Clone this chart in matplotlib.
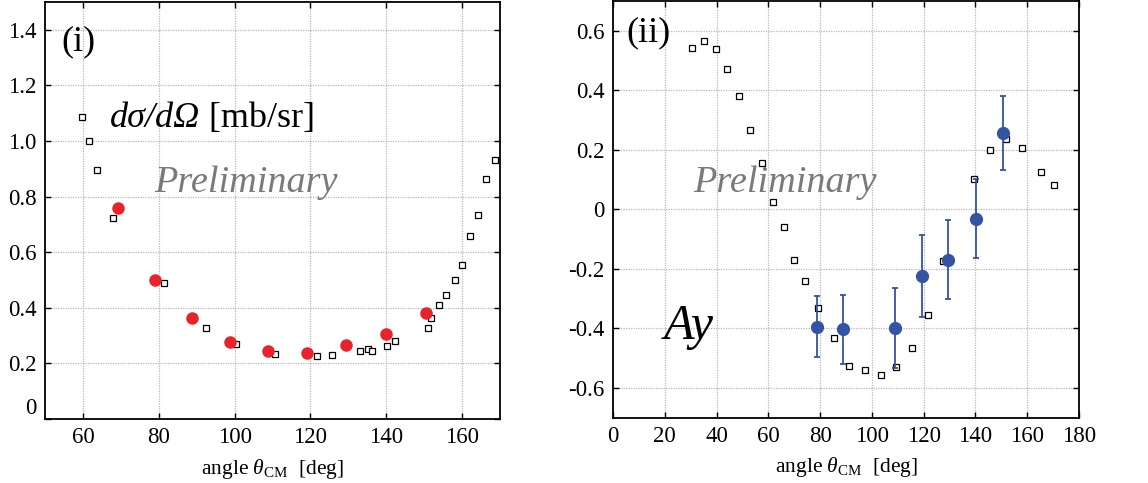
import matplotlib
matplotlib.use('Agg')
import matplotlib.pyplot as plt

plt.rcParams['font.family'] = ['Liberation Serif', 'DejaVu Serif']
plt.rcParams['mathtext.fontset'] = 'custom'
plt.rcParams['mathtext.rm'] = 'Liberation Serif'
plt.rcParams['mathtext.it'] = 'Liberation Serif:italic'
plt.rcParams['axes.unicode_minus'] = False

# ---------------- data: panel (i) cross section ----------------
xs_meas_angle = [69.2, 79.0, 88.8, 98.9, 108.9, 119.2, 129.5, 139.9, 150.4]
xs_meas_val = [0.760, 0.500, 0.363, 0.277, 0.245, 0.238, 0.266, 0.304, 0.381]

xs_ref_angle = [59.8, 61.7, 63.7, 68.0, 81.4, 92.5, 100.5, 110.6, 121.8, 125.6,
                133.0, 135.1, 136.3, 140.2, 142.2, 150.9, 151.7, 153.9, 155.8,
                158.1, 160.0, 162.1, 164.3, 166.4, 168.6]
xs_ref_val = [1.085, 1.001, 0.897, 0.723, 0.489, 0.328, 0.269, 0.233, 0.227, 0.230,
              0.244, 0.251, 0.244, 0.262, 0.279, 0.328, 0.363, 0.409, 0.447,
              0.500, 0.555, 0.657, 0.733, 0.863, 0.932]

# ---------------- data: panel (ii) analyzing power ----------------
ay_meas_angle = [78.8, 88.8, 108.9, 119.2, 129.5, 140.1, 150.6]
ay_meas_val = [-0.395, -0.404, -0.400, -0.225, -0.169, -0.032, 0.256]
ay_meas_err = [0.103, 0.115, 0.135, 0.137, 0.134, 0.133, 0.123]

ay_ref_angle = [30.6, 35.1, 39.6, 44.1, 48.6, 52.9, 57.4, 61.7, 65.9, 70.1, 74.3,
                79.1, 85.3, 91.2, 97.2, 103.4, 109.3, 115.4, 121.5, 127.6, 139.6,
                145.8, 151.9, 158.1, 165.4, 170.3]
ay_ref_val = [0.541, 0.564, 0.537, 0.473, 0.381, 0.267, 0.156, 0.026, -0.061,
              -0.172, -0.241, -0.332, -0.434, -0.527, -0.541, -0.558, -0.531,
              -0.466, -0.355, -0.175, 0.102, 0.200, 0.236, 0.207, 0.124, 0.083]

# ---------------- ticks ----------------
x1_ticks = [60, 80, 100, 120, 140, 160]
y1_ticks = [0, 0.2, 0.4, 0.6, 0.8, 1.0, 1.2, 1.4]
y1_labels = ['0', '0.2', '0.4', '0.6', '0.8', '1.0', '1.2', '1.4']
x2_ticks = [0, 20, 40, 60, 80, 100, 120, 140, 160, 180]
y2_ticks = [-0.6, -0.4, -0.2, 0, 0.2, 0.4, 0.6]
y2_labels = ['-0.6', '-0.4', '-0.2', '0', '0.2', '0.4', '0.6']

RED = '#e8232b'
BLUE = '#3453a2'
W, H = 1148, 483

fig = plt.figure(figsize=(W / 100, H / 100), dpi=100)
ax1 = fig.add_axes([45 / W, 1 - 419 / H, 455 / W, 417 / H])
ax2 = fig.add_axes([613 / W, 1 - 417.5 / H, 466 / W, 416.5 / H])


def style(ax):
    ax.grid(True, color='#b8b8b8', linestyle=(0, (1, 1)), linewidth=0.9)
    ax.set_axisbelow(True)
    ax.tick_params(direction='in', length=4, width=1, top=True, right=True,
                   labelsize=16.5, pad=6)
    for s in ax.spines.values():
        s.set_linewidth(1.3)
    ax.set_xlabel(r'angle $\theta_{\mathrm{CM}}$  [deg]', fontsize=15.5, labelpad=6)


# panel (i)
ax1.plot(xs_ref_angle, xs_ref_val, 's', ms=3.8, mfc='white', mec='black', mew=0.9,
         zorder=3)
ax1.plot(xs_meas_angle, xs_meas_val, 'o', ms=8, color=RED, mec=RED, zorder=4)
ax1.set_xlim(50, 170)
ax1.set_ylim(0, 1.5)
ax1.set_xticks(x1_ticks)
ax1.set_yticks(y1_ticks)
ax1.set_yticklabels(y1_labels)
style(ax1)
ax1.yaxis.get_major_ticks()[0].label1.set_va('bottom')

ax1.text(0.037, 0.904, '(i)', transform=ax1.transAxes, fontsize=26,
         ha='left', va='center')
t_sig = ax1.text(0.143, 0.70, 'dσ/dΩ', transform=ax1.transAxes,
                 fontsize=26, style='italic', ha='left', va='baseline')
ax1.annotate(' [mb/sr]', xy=(1, 0), xycoords=t_sig, xytext=(0, 0),
             textcoords='offset points', fontsize=26, ha='left', va='bottom')
ax1.text(0.2396, 0.566, 'Preliminary', transform=ax1.transAxes, fontsize=27.5,
         style='italic', color='#7a7a7a', ha='left', va='center')

# panel (ii)
ax2.plot(ay_ref_angle, ay_ref_val, 's', ms=3.8, mfc='white', mec='black', mew=0.9,
         zorder=3)
ax2.errorbar(ay_meas_angle, ay_meas_val, yerr=ay_meas_err, fmt='o', ms=8.5,
             color=BLUE, mec=BLUE, ecolor=BLUE, elinewidth=1.3, capsize=2.2,
             capthick=1.3, zorder=4)
ax2.set_xlim(0, 180)
ax2.set_ylim(-0.7, 0.7)
ax2.set_xticks(x2_ticks)
ax2.set_yticks(y2_ticks)
ax2.set_yticklabels(y2_labels)
style(ax2)

ax2.text(0.028, 0.923, '(ii)', transform=ax2.transAxes, fontsize=26,
         ha='left', va='center')
ax2.text(0.172, 0.563, 'Preliminary', transform=ax2.transAxes, fontsize=27.5,
         style='italic', color='#7a7a7a', ha='left', va='center')
ax2.text(0.109, 0.217, 'Ay', transform=ax2.transAxes, fontsize=36,
         style='italic', ha='left', va='center')

fig.savefig('out.png', dpi=100)
